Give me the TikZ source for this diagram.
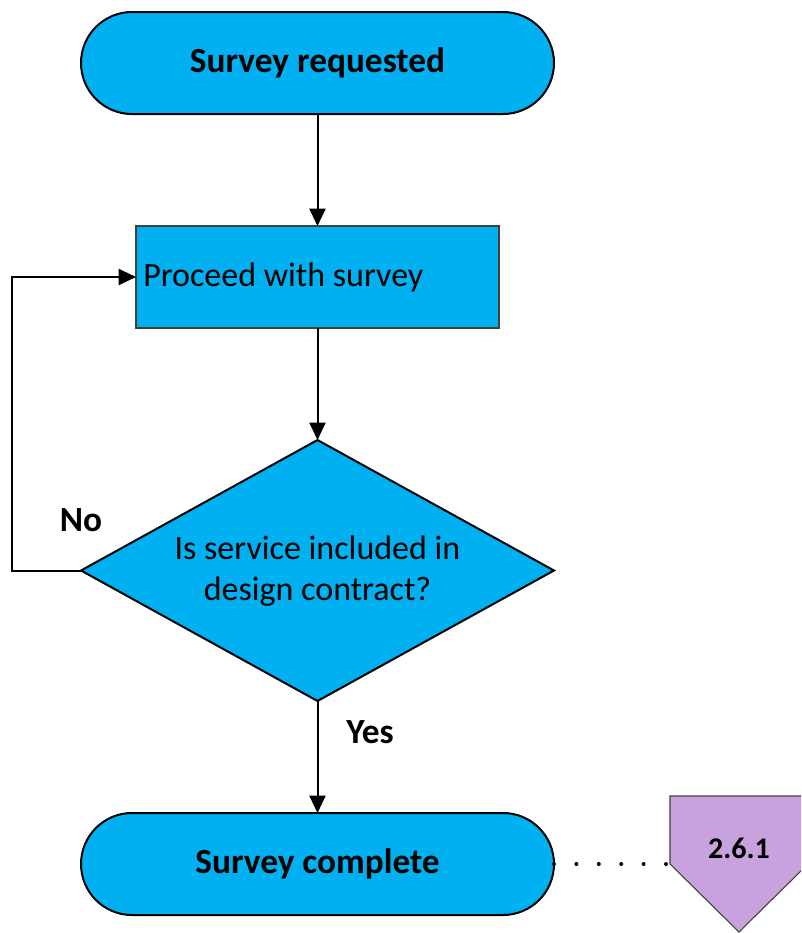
\documentclass[tikz,border=0pt]{standalone}
\usepackage{fontspec}
\setmainfont{Carlito}
\usetikzlibrary{shapes.geometric,arrows.meta}
\definecolor{flowblue}{HTML}{00B0F0}
\definecolor{linkpurple}{HTML}{C8A2DC}
\definecolor{edgegray}{HTML}{404040}
\begin{document}
\begin{tikzpicture}[x=0.75pt,y=-0.75pt,
  terminal/.style={draw=black,line width=1.5pt,fill=flowblue,rounded corners=38.25pt,
    minimum width=354.75pt,minimum height=76.5pt,inner sep=0pt,outer sep=0pt,
    font=\fontsize{26.5}{30}\selectfont\bfseries},
  process/.style={draw=edgegray,line width=0.8pt,fill=flowblue,
    minimum width=272.25pt,minimum height=76.5pt,inner sep=0pt,outer sep=0pt},
  decision/.style={diamond,draw=black,line width=1.5pt,fill=flowblue,shape aspect=1.8123,
    minimum width=354.75pt,minimum height=195.75pt,inner sep=0pt,outer sep=0pt},
  flow/.style={line width=1.5pt,-{Triangle[length=13pt,width=12pt]}},
  label/.style={font=\fontsize{26.5}{30}\selectfont\bfseries},
  body/.style={font=\fontsize{25.5}{30.75}\selectfont},
]
\useasboundingbox (0,0) rectangle (801,933);
\clip (0,0) rectangle (801,933);

% main chain
\node[terminal] (start) at (317.5,63) {Survey requested};
\node[process] (proceed) at (317.5,277) {};
\node[body,anchor=west,inner sep=0pt] (proceedtxt) at (143,277) {Proceed with survey};
\node[decision] (check) at (317.5,570.5) {};
\node[body,align=center] (checktxt) at (317.5,571) {Is service included in\\design contract?};
\node[terminal] (done) at (317.5,864) {Survey complete};

\draw[flow] (start.south) -- (proceed.north);
\draw[flow] (proceed.south) -- (check.north);
\draw[flow] (check.south) -- (done.north);
\draw[flow] (check.west) -- (12,570.5) |- (proceed.west);

\node[label] (no) at (81,520) {No};
\node[label] (yes) at (370,732) {Yes};

% off-page connector to 2.6.1
\coordinate (opc) at (670,864);
\draw[draw=edgegray,line width=0.8pt,fill=linkpurple]
  (670,796) -- (808,796) -- (808,864) -- (739,932) -- (670,864) -- cycle;
\node[font=\fontsize{22.5}{26}\selectfont\bfseries] (ref) at (739,848) {2.6.1};
\draw[line width=3pt,line cap=round,dash pattern=on 0pt off 16.8pt] (done.east) -- (opc);
\end{tikzpicture}
\end{document}
